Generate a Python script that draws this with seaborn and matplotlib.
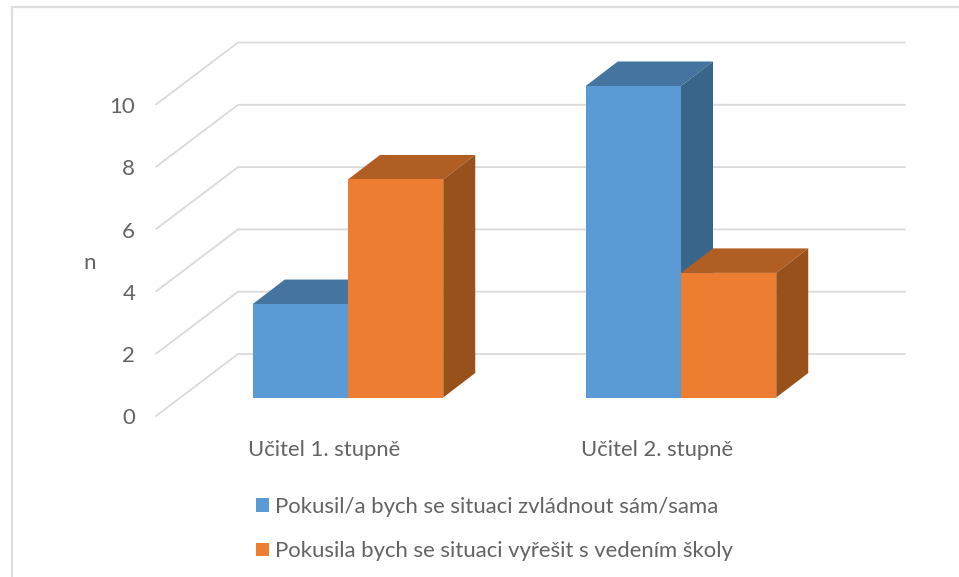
import pandas as pd
import seaborn as sns
import matplotlib.pyplot as plt
from matplotlib.lines import Line2D
from matplotlib.patches import Polygon
from matplotlib.transforms import ScaledTranslation

groups = ["Učitel 1. stupně", "Učitel 2. stupně"]
series_a = "Pokusil/a bych se situaci zvládnout sám/sama"
series_b = "Pokusila bych se situaci vyřešit s vedením školy"
values_a = [3, 10]
values_b = [7, 4]
y_ticks = [0, 2, 4, 6, 8, 10]

front_colors = {series_a: "#5B9BD5", series_b: "#ED7D31"}
top_colors = ["#44749F", "#B15E25"]
side_colors = ["#386589", "#99511C"]
grid_color = "#DADADA"
text_color = "#636363"

df = pd.DataFrame({
    "group": groups * 2,
    "n": values_a + values_b,
    "series": [series_a] * 2 + [series_b] * 2,
})

W, H = 959, 577
sns.set_theme(style="white")
plt.rcParams["font.family"] = ["Lato", "DejaVu Sans"]

fig = plt.figure(figsize=(W / 100, H / 100), dpi=100)
# axes box is the plane of the bar fronts
ax = fig.add_axes([156 / W, (H - 397.5) / H, (905 - 156) / W, (397.5 - 86) / H])
sns.barplot(data=df, x="group", y="n", hue="series", palette=front_colors,
            width=0.572, gap=0, saturation=1, linewidth=0, ax=ax, zorder=4)
ax.set_xlim(-192 / 333, 557 / 333)
ax.set_ylim(0, 10)
px_x = 1 / 333
px_y = 10 / 311.5

# back wall and left wall gridlines
back_dy = 43.5 * px_y
front_dy = -18.5 * px_y
x_left, x_right = ax.get_xlim()
x_back = x_left + 82 * px_x
for v in y_ticks:
    ax.plot([x_left, x_back, x_right], [v + front_dy, v + back_dy, v + back_dy],
            color=grid_color, lw=1.3, clip_on=False, zorder=1,
            solid_joinstyle="miter")

# fake 3D depth on every bar
dx = 32 * px_x
dy = 24.5 * px_y
for i, container in enumerate(ax.containers):
    for bar in container:
        x0, x1 = bar.get_x(), bar.get_x() + bar.get_width()
        h = bar.get_height()
        top = Polygon([(x0, h), (x1, h), (x1 + dx, h + dy), (x0 + dx, h + dy)],
                      facecolor=top_colors[i], edgecolor="none",
                      clip_on=False, zorder=2 + 2 * i)
        side = Polygon([(x1, 0), (x1 + dx, dy), (x1 + dx, h + dy), (x1, h)],
                       facecolor=side_colors[i], edgecolor="none",
                       clip_on=False, zorder=2 + 2 * i)
        ax.add_patch(top)
        ax.add_patch(side)
        bar.set_zorder(3 + 2 * i)

sns.despine(ax=ax, left=True, bottom=True)
ax.set_xlabel("")
ax.set_ylabel("n", rotation=0, fontsize=16, color=text_color, va="center", ha="center")
ax.yaxis.set_label_coords((90 - 156) / (905 - 156), (397.5 - 263) / 311.5)
ax.set_yticks(y_ticks)
ax.tick_params(axis="y", length=0, pad=15, labelsize=16, labelcolor=text_color)
ax.tick_params(axis="x", length=0, pad=30.5, labelsize=15.8, labelcolor=text_color)
shift_y = ScaledTranslation(0, -19 / 100, fig.dpi_scale_trans)
for label in ax.get_yticklabels():
    label.set_transform(label.get_transform() + shift_y)
# category labels sit left of the bar centres, as in the 3D projection
shift_x = ScaledTranslation(-24 / 100, 0, fig.dpi_scale_trans)
for label in ax.get_xticklabels():
    label.set_transform(label.get_transform() + shift_x)

leg = ax.legend(loc="upper left", bbox_to_anchor=(256 / W, 1 - 497 / H),
                bbox_transform=fig.transFigure, frameon=False, fontsize=15.9,
                handlelength=0.59, handleheight=0.59, handletextpad=0.27,
                labelspacing=1.1, borderpad=0, borderaxespad=0, title=None)
for t in leg.get_texts():
    t.set_color(text_color)

# picture frame, left and top only
fig.add_artist(Line2D([11.5 / W, 11.5 / W, 1], [0, 1 - 7 / H, 1 - 7 / H],
                      color="#DEDEDE", lw=1.6, solid_joinstyle="miter"))

fig.savefig("out.png", dpi=100)
